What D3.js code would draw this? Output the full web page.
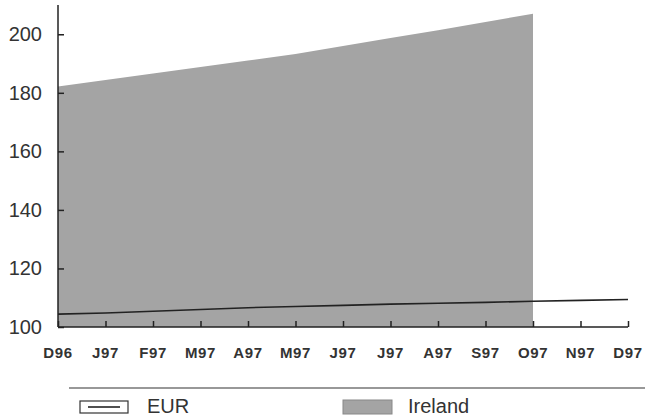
<!DOCTYPE html>
<html>
<head>
<meta charset="utf-8">
<script src="https://cdn.jsdelivr.net/npm/d3@7"></script>
<style>
  body { margin: 0; background: #fff; }
  text { font-family: "Liberation Sans", Arial, sans-serif; }
</style>
</head>
<body>
<div id="chart"></div>
<script>
var months = ["D96", "J97", "F97", "M97", "A97", "M97", "J97", "J97", "A97", "S97", "O97", "N97", "D97"];
var ireland = [182.2, 184.4, 186.6, 188.8, 191.0, 193.3, 196.0, 198.7, 201.4, 204.2, 207.0];
var eur = [104.4, 104.8, 105.4, 106.0, 106.6, 107.0, 107.4, 107.8, 108.1, 108.4, 108.8, 109.1, 109.4];
var yTicks = [100, 120, 140, 160, 180, 200];

var width = 645, height = 420;

var svg = d3.select("#chart")
  .append("svg")
    .attr("width", width)
    .attr("height", height);

// index based x scale so repeated month letters stay separate
var x = d3.scaleLinear().domain([0, months.length - 1]).range([58, 628]);
var y = d3.scaleLinear().domain([100, 210]).range([327, 5]);

// Ireland area
var area = d3.area()
  .x(function(d, i){ return x(i); })
  .y0(y(100))
  .y1(function(d){ return y(d); });

svg.append("path")
  .datum(ireland)
  .attr("d", area)
  .attr("fill", "#a4a4a4");

// EUR line
var line = d3.line()
  .x(function(d, i){ return x(i); })
  .y(function(d){ return y(d); });

svg.append("path")
  .datum(eur)
  .attr("d", line)
  .attr("fill", "none")
  .attr("stroke", "#222")
  .attr("stroke-width", 1.6);

// y axis, ticks pointing inward
var yAxis = svg.append("g")
  .attr("transform", "translate(" + x(0) + ",0)")
  .call(d3.axisRight(y).tickValues(yTicks).tickSize(6).tickFormat(""));
yAxis.select(".domain").attr("d", "M0," + y(210) + "V" + y(100)).attr("stroke", "#222").attr("stroke-width", 1.5);
yAxis.selectAll(".tick line").attr("stroke", "#222").attr("stroke-width", 1.5);

svg.append("g").selectAll("text")
  .data(yTicks)
  .enter()
  .append("text")
    .attr("x", 42)
    .attr("y", function(d){ return y(d) + 7; })
    .attr("text-anchor", "end")
    .attr("font-size", 20)
    .attr("fill", "#333")
    .text(function(d){ return d; });

// x axis, ticks pointing up
var xAxis = svg.append("g")
  .attr("transform", "translate(0," + y(100) + ")")
  .call(d3.axisTop(x).tickValues(d3.range(months.length)).tickSize(6).tickFormat(""));
xAxis.select(".domain").attr("d", "M" + x(0) + ",0H" + x(months.length - 1)).attr("stroke", "#222").attr("stroke-width", 1.5);
xAxis.selectAll(".tick line").attr("stroke", "#222").attr("stroke-width", 1.5);

svg.append("g").selectAll("text")
  .data(months)
  .enter()
  .append("text")
    .attr("x", function(d, i){ return x(i); })
    .attr("y", 358)
    .attr("text-anchor", "middle")
    .attr("font-size", 15)
    .attr("font-weight", "bold")
    .attr("letter-spacing", 0.6)
    .attr("fill", "#333")
    .text(function(d){ return d; });

// legend
svg.append("line")
  .attr("x1", 69).attr("x2", 645)
  .attr("y1", 388).attr("y2", 388)
  .attr("stroke", "#333")
  .attr("stroke-width", 1.2);

var legend = svg.append("g");
legend.append("rect")
  .attr("x", 80).attr("y", 401).attr("width", 48).attr("height", 12)
  .attr("fill", "#fff").attr("stroke", "#333").attr("stroke-width", 1.2);
legend.append("line")
  .attr("x1", 88).attr("x2", 120).attr("y1", 407).attr("y2", 407)
  .attr("stroke", "#222").attr("stroke-width", 1.6);
legend.append("text")
  .attr("x", 147).attr("y", 413)
  .attr("font-size", 20).attr("fill", "#333")
  .text("EUR");

legend.append("rect")
  .attr("x", 343).attr("y", 400).attr("width", 49).attr("height", 14)
  .attr("fill", "#a4a4a4").attr("stroke", "#888").attr("stroke-width", 1);
legend.append("text")
  .attr("x", 408).attr("y", 413)
  .attr("font-size", 20).attr("fill", "#333")
  .text("Ireland");
</script>
</body>
</html>
